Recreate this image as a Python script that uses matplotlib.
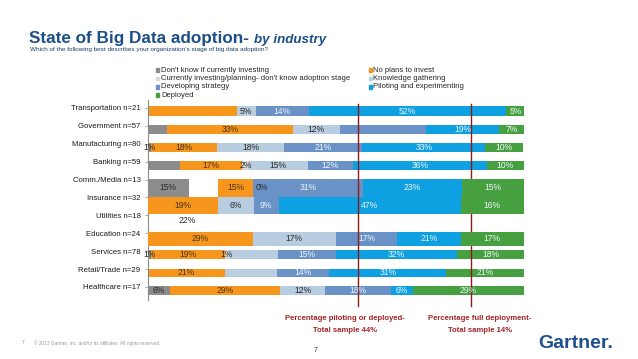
import matplotlib
matplotlib.use('Agg')
import matplotlib.pyplot as plt
from matplotlib.patches import Rectangle
import numpy as np

plt.rcParams['font.family'] = ['Liberation Sans', 'DejaVu Sans']

# ---------------- data ----------------
categories = ['Transportation n=21', 'Government n=57', 'Manufacturing n=80', 'Banking n=59',
              'Comm./Media n=13', 'Insurance n=32', 'Utilities n=18', 'Education n=24',
              'Services n=78', 'Retail/Trade n=29', 'Healthcare n=17']

dont_know  = [0, 5.1, 1.0, 8.5, 11.0, 0, 0, 0, 1.0, 0, 5.9]
unshown    = [0, 0, 0, 0, 7.7, 0, 21.0, 0, 0, 0, 0]
no_plans   = [23.7, 33.5, 17.5, 16.5, 9.3, 18.6, 0, 27.9, 19.5, 20.7, 29.4]
curr_inv   = [0, 0, 0, 2.0, 0, 0, 0, 0, 1.0, 0, 0]
knowledge  = [5.0, 12.5, 17.8, 15.5, 0, 9.6, 0, 22.1, 13.2, 13.7, 11.8]
developing = [14.2, 22.8, 20.7, 12.0, 29.2, 6.6, 0, 16.4, 15.3, 13.9, 17.7]
piloting   = [52.4, 19.5, 32.7, 35.6, 26.2, 48.4, 0, 16.8, 32.3, 31.0, 5.7]
deployed   = [4.8, 6.7, 10.1, 9.9, 16.7, 16.8, 0, 16.8, 17.7, 20.7, 29.5]

dont_know_lbl  = ['', '', '1%', '', '15%', '', '', '', '1%', '', '6%']
unshown_lbl    = ['', '', '', '', '', '', '22%', '', '', '', '']
no_plans_lbl   = ['', '33%', '18%', '17%', '15%', '19%', '', '29%', '19%', '21%', '29%']
curr_inv_lbl   = ['', '', '', '2%', '', '', '', '', '1%', '', '']
knowledge_lbl  = ['5%', '12%', '18%', '15%', '0%', '6%', '', '17%', '', '', '12%']
developing_lbl = ['14%', '', '21%', '12%', '31%', '9%', '', '17%', '15%', '14%', '18%']
piloting_lbl   = ['52%', '19%', '33%', '36%', '23%', '47%', '', '21%', '32%', '31%', '6%']
deployed_lbl   = ['5%', '7%', '10%', '10%', '15%', '16%', '', '17%', '18%', '21%', '29%']

total_piloting_or_deployed = 44
total_full_deployment = 14

legend_left = ["Don't know if currently investing",
               "Currently investing/planning- don't know adoption stage",
               "Developing strategy", "Deployed"]
legend_right = ["No plans to invest", "Knowledge gathering", "Piloting and experimenting"]

# ---------------- style ----------------
C_GRAY, C_CURR, C_ORANGE = '#8c8c8c', '#d9d9d9', '#f7961c'
C_KNOW, C_DEV, C_PILOT, C_DEP = '#b9cde0', '#6b92c6', '#0ea0e0', '#46a040'
DARK, LIGHT = '#2a2a2a', '#eef6fc'

bar_offset = [0.18, 0.21, 0.20, 0.21, 0.47, 0.44, 0.31, 0.32, 0.20, 0.22, 0.21]
bar_height = [0.53, 0.52, 0.52, 0.50, 0.99, 0.97, 0.50, 0.73, 0.49, 0.46, 0.49]
row_z      = [2, 2, 2, 2, 4, 4, 2, 4, 2, 2, 2]

series = [
    (dont_know, dont_know_lbl, C_GRAY, DARK),
    (unshown, unshown_lbl, 'none', DARK),
    (no_plans, no_plans_lbl, C_ORANGE, '#4a3410'),
    (curr_inv, curr_inv_lbl, C_CURR, DARK),
    (knowledge, knowledge_lbl, C_KNOW, DARK),
    (developing, developing_lbl, C_DEV, LIGHT),
    (piloting, piloting_lbl, C_PILOT, LIGHT),
    (deployed, deployed_lbl, C_DEP, LIGHT),
]

W, H = 638, 359
def fx(x): return x / W
def fy(y): return 1 - y / H

fig = plt.figure(figsize=(W / 100, H / 100), dpi=100)
fig.patch.set_facecolor('white')
ax = fig.add_axes([fx(147.5), fy(300), (524 - 147.5) / W, 200 / H])
ax.set_xlim(0, 100)
ax.set_ylim(10.73, -0.447)

n = len(categories)
ypos = np.arange(n) + np.array(bar_offset)
left = np.zeros(n)
for vals, lbls, color, tcol in series:
    for i in range(n):
        v = vals[i]
        if v > 0:
            ax.barh(ypos[i], v, left=left[i], height=bar_height[i], color=color,
                    edgecolor='none', zorder=row_z[i])
        if lbls[i]:
            if v > 0:
                ax.text(left[i] + v / 2, ypos[i], lbls[i], ha='center', va='center',
                        fontsize=6.2, color=tcol, zorder=7)
            else:
                ax.text(left[i] + 0.8, ypos[i], lbls[i], ha='left', va='center',
                        fontsize=6.2, color=tcol, zorder=7)
        left[i] += v

# reference lines
for xv, z in [(100 - total_piloting_or_deployed, 5), (100 - total_full_deployment, 3)]:
    ax.plot([xv, xv], [-0.03, 0.98], transform=ax.get_xaxis_transform(),
            color='#8b1a1a', lw=1.0, clip_on=False, zorder=z)

ax.set_yticks(np.arange(n))
ax.set_yticklabels(categories, fontsize=5.6, color='#1a1a1a')
ax.tick_params(axis='y', length=2.5, width=0.6, color='#999999', pad=2.5)
ax.set_xticks([])
for s in ['top', 'right', 'bottom']:
    ax.spines[s].set_visible(False)
ax.spines['left'].set_color('#8a8a8a')
ax.spines['left'].set_linewidth(0.8)
ax.set_facecolor('none')

# legend (manual)
leg_colors_left = [C_GRAY, C_CURR, C_DEV, C_DEP]
leg_colors_right = [C_ORANGE, C_KNOW, C_PILOT]
rows_y = [70.3, 78.6, 86.9, 95.2]
for txt, col, yy in zip(legend_left, leg_colors_left, rows_y):
    fig.patches.append(Rectangle((fx(155.5), fy(yy + 1.6)), 3.4 / W, 3.4 / H,
                                 transform=fig.transFigure, color=col, figure=fig))
    fig.text(fx(161), fy(yy), txt, fontsize=5.5, color='#262626', va='center')
for txt, col, yy in zip(legend_right, leg_colors_right, rows_y):
    fig.patches.append(Rectangle((fx(368.5), fy(yy + 1.6)), 3.4 / W, 3.4 / H,
                                 transform=fig.transFigure, color=col, figure=fig))
    fig.text(fx(373), fy(yy), txt, fontsize=5.5, color='#262626', va='center')

# titles
t1 = fig.text(fx(29), fy(43), 'State of Big Data adoption- ', fontsize=12.3,
              fontweight='bold', color='#1c4f87', va='baseline')
ax.annotate('by industry', xy=(1, 0), xycoords=t1, va='bottom', ha='left',
            fontsize=9.6, fontweight='bold', fontstyle='italic', color='#1c4f87',
            annotation_clip=False)
fig.text(fx(30), fy(49), "Which of the following best describes your organization's stage of big data adoption?",
         fontsize=4.6, color='#1c3f6e', va='center')

# annotations
ann_col = '#a3262a'
fig.text(fx(345), fy(318), 'Percentage piloting or deployed-', fontsize=5.6, fontweight='bold',
         color=ann_col, ha='center', va='center')
fig.text(fx(345), fy(331), 'Total sample %d%%' % total_piloting_or_deployed, fontsize=5.6,
         fontweight='bold', color=ann_col, ha='center', va='center')
fig.text(fx(480), fy(318), 'Percentage full deployment-', fontsize=5.6, fontweight='bold',
         color=ann_col, ha='center', va='center')
fig.text(fx(480), fy(331), 'Total sample %d%%' % total_full_deployment, fontsize=5.6,
         fontweight='bold', color=ann_col, ha='center', va='center')

# logo & footer
fig.text(fx(538), fy(343), 'Gartner.', fontsize=14, fontweight='bold', color='#1f4f8c',
         va='center', ha='left')
fig.text(fx(22), fy(343), '7', fontsize=3.4, color='#8a8a8a', va='center')
fig.text(fx(34), fy(343), '\u00a9 2013 Gartner, Inc. and/or its affiliates. All rights reserved.',
         fontsize=3.4, color='#9a9a9a', va='center')
fig.text(fx(316), fy(350), '7', fontsize=5, color='#333333', va='center', ha='center')

fig.savefig('out.png', dpi=100, facecolor='white')
